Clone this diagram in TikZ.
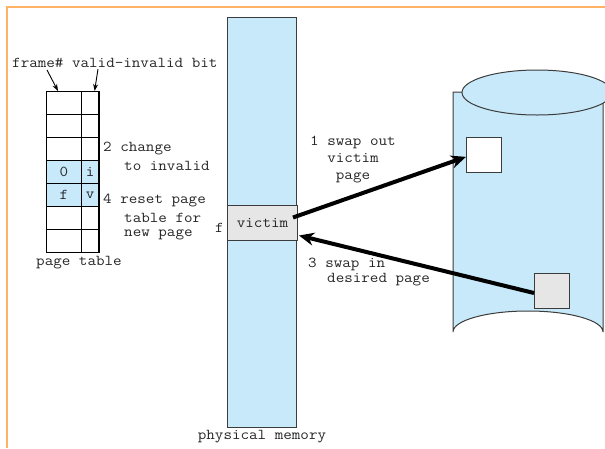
\documentclass[tikz,border=0pt]{standalone}
\usepackage{fontspec}
\newfontfamily\lblfont[FakeStretch=1.1]{Latin Modern Mono}
\usetikzlibrary{arrows.meta}
\definecolor{memblue}{RGB}{199,233,249}
\definecolor{victimgray}{RGB}{230,230,230}
\definecolor{frameorange}{RGB}{255,178,102}
\definecolor{edgegray}{RGB}{60,60,60}
\begin{document}
\begin{tikzpicture}[x=1pt,y=-1pt,
  lbl/.style={font=\lblfont\fontsize{15.1}{17}\selectfont, text=black!85, inner sep=0pt},
  cell/.style={draw=black, line width=1.3pt, inner sep=0pt, anchor=north west,
    minimum height=23pt, font=\lblfont\fontsize{15.1}{17}\selectfont, text=black!85},
  wide/.style={cell, minimum width=34.7pt},
  narrow/.style={cell, minimum width=17.6pt},
  thin/.style={-{Stealth[length=7pt,width=5pt]}, line width=0.9pt},
  swap/.style={-{Stealth[length=15pt,width=13pt]}, line width=4pt},
  page/.style={draw=edgegray, line width=1pt, inner sep=0pt, anchor=north west}]
\useasboundingbox (0,0) rectangle (605,448);
\clip (0,0) rectangle (605,448);
% outer frame
\draw[frameorange, line width=2pt] (6.5,448) -- (6.5,6.5) -- (605,6.5);

% page table
\foreach \r/\a/\b/\f in {0///white,1///white,2///white,3/0/i/memblue,4/f/v/memblue,5///white,6///white}{
  \node[wide, fill=\f] (pl\r) at (46,{91+23*\r}) {\a};
  \node[narrow, fill=\f] (pr\r) at (80.7,{91+23*\r}) {\b};
}
\node[lbl, anchor=west] (hdr) at (12,63) {frame\# valid-invalid bit};
\coordinate (hf) at (47,70);
\coordinate (hv) at (98,69);
\draw[thin] (hf) -- ([xshift=12pt]pl0.north west);
\draw[thin] (hv) -- ([xshift=-5pt]pr0.north east);
\node[lbl, anchor=west] (chg1) at (103,149) {2 change};
\node[lbl, anchor=west] (chg2) at (124,166) {to invalid};
\node[lbl, anchor=west] (rst1) at (103,201) {4 reset page};
\node[lbl, anchor=west] (rst2) at (124,218) {table for};
\node[lbl, anchor=west] (rst3) at (124,235) {new page};
\node[lbl] (ptcap) at (79,263) {page table};

% physical memory
\node[page, fill=memblue, minimum width=69pt, minimum height=410pt] (mem) at (227,17) {};
\node[page, fill=victimgray, minimum width=70pt, minimum height=35pt] (victim) at (227,205) {};
\node[lbl] at (victim.center) {victim};
\node[lbl, anchor=east] (fl) at (224,228) {f};
\node[lbl] (memcap) at (262,437) {physical memory};

% backing store
\path[fill=memblue, draw=edgegray, line width=1pt]
  (462,92) -- (453,92) -- (453,332)
  arc[start angle=180, end angle=360, x radius=75, y radius=21] -- (603,92);
\draw[fill=memblue, draw=edgegray, line width=1pt] (537,92.5) ellipse[x radius=75, y radius=22.5];
\node[page, fill=white, minimum width=34.7pt, minimum height=34.7pt] (outslot) at (466,137) {};
\node[page, fill=victimgray, minimum width=35pt, minimum height=35pt] (inslot) at (534,273) {};

% swap arrows
\draw[swap] ([xshift=-5pt,yshift=5.5pt]victim.east) -- ([yshift=-2pt]outslot.west);
\draw[swap] ([yshift=-2pt]inslot.west) -- ([xshift=1pt,yshift=-12.5pt]victim.east);
\node[lbl, align=center] (lab1) at (353,160) {1 swap out\\victim\\page};
\node[lbl, anchor=west] (lab3a) at (308,264) {3 swap in};
\node[lbl, anchor=west] (lab3b) at (327,280) {desired page};
\end{tikzpicture}
\end{document}
